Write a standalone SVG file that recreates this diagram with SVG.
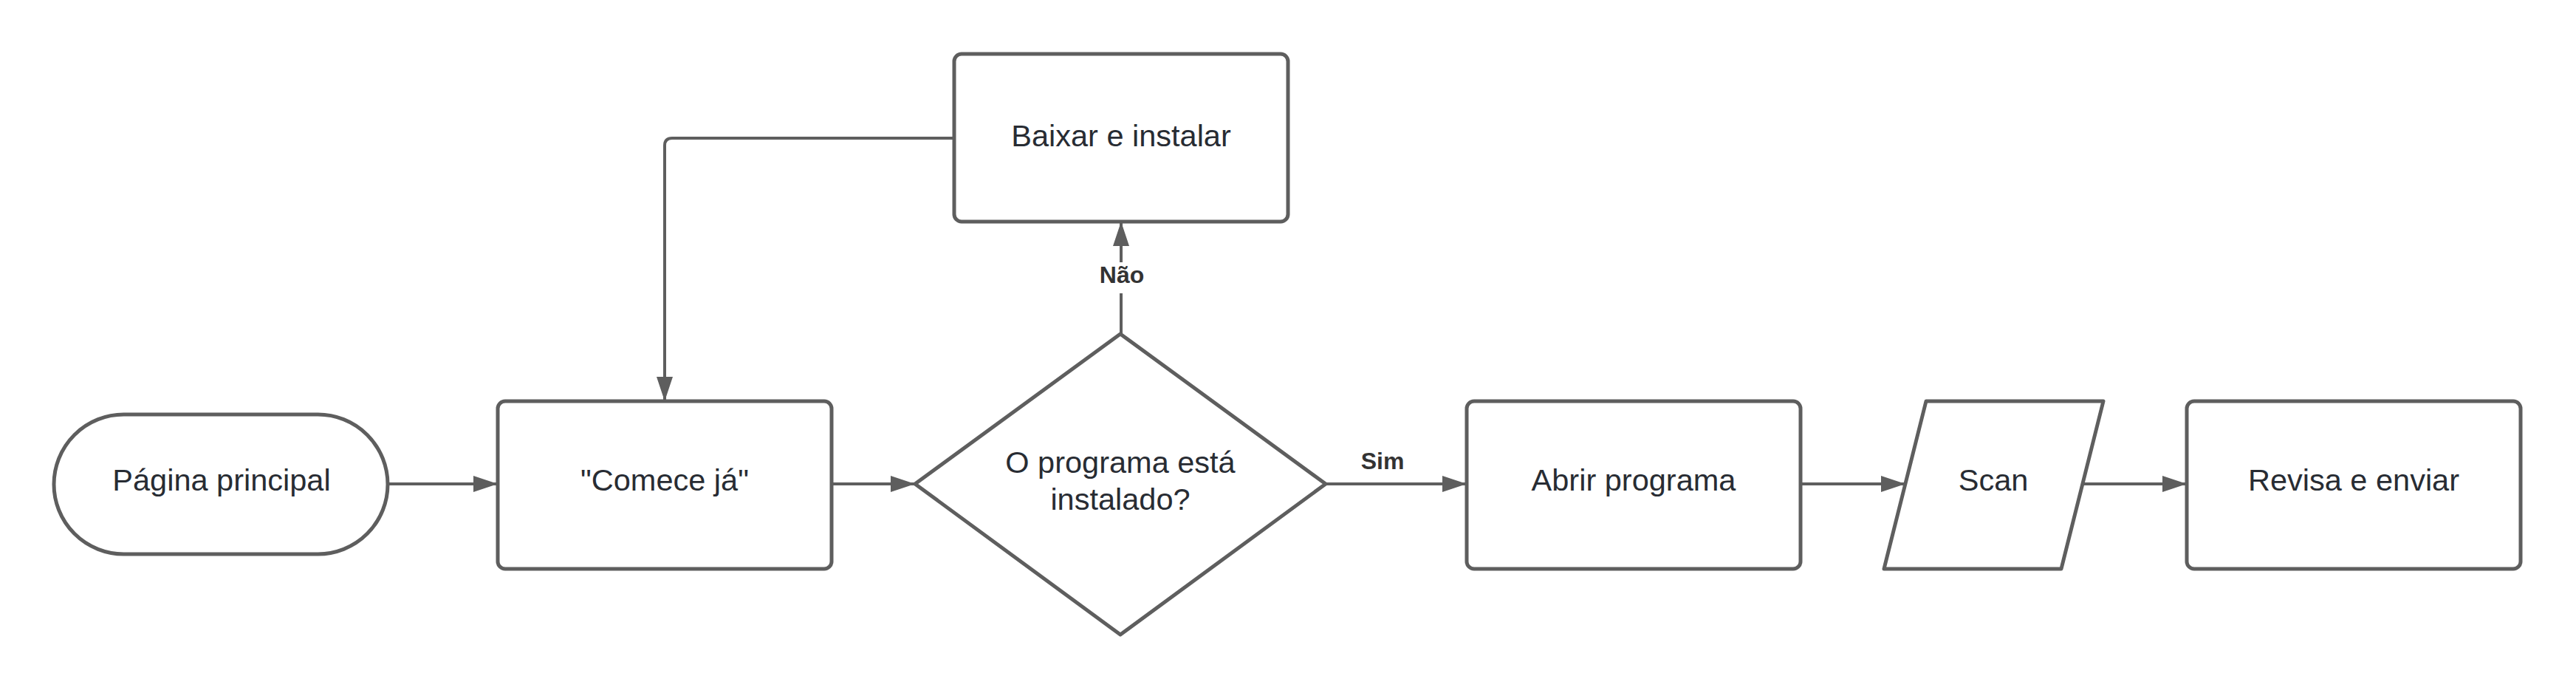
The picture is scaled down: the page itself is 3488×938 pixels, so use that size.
<svg xmlns="http://www.w3.org/2000/svg" width="3488" height="938" viewBox="0 0 3488 938">
<style>
.node{fill:#ffffff;stroke:#5e5e5e;stroke-width:5;stroke-linejoin:round}
.lbl{font-family:"Liberation Sans",Arial,sans-serif;font-size:41.5px;fill:#282c33;text-anchor:middle}
.elbl{font-family:"Liberation Sans",Arial,sans-serif;font-size:32px;font-weight:bold;fill:#333333;text-anchor:middle}
.conn{fill:none;stroke:#5e5e5e;stroke-width:4;stroke-linejoin:round}
</style>
<defs>
<marker id="arr" markerUnits="userSpaceOnUse" markerWidth="34" markerHeight="22" refX="33" refY="11" orient="auto">
<path d="M0,0 L33,11 L0,22 z" fill="#5e5e5e"/>
</marker>
</defs>
<rect width="3488" height="938" fill="#ffffff"/>
<g id="connectors">
<path class="conn" d="M525,655 H674" marker-end="url(#arr)"/>
<path class="conn" d="M1126,655 H1239" marker-end="url(#arr)"/>
<path class="conn" d="M1795,655 H1986" marker-end="url(#arr)"/>
<path class="conn" d="M2438,655 H2580" marker-end="url(#arr)"/>
<path class="conn" d="M2820,655 H2961" marker-end="url(#arr)"/>
<path class="conn" d="M1518,452 V397"/>
<path class="conn" d="M1518,355 V300" marker-end="url(#arr)"/>
<path class="conn" d="M1292,187 H910 Q900,187 900,197 V543" marker-end="url(#arr)"/>
<text class="elbl" x="1519" y="383">Não</text>
<text class="elbl" x="1872" y="635">Sim</text>
</g>
<g id="node-pagina">
<rect class="node" x="73" y="561" width="452" height="189" rx="94.5"/>
<text class="lbl" x="300" y="664">Página principal</text>
</g>
<g id="node-comece">
<rect class="node" x="674" y="543" width="452" height="227" rx="10"/>
<text class="lbl" x="900" y="664">"Comece já"</text>
</g>
<g id="node-decisao">
<polygon class="node" points="1517,452 1795,655 1517,859 1239,655"/>
<text class="lbl" x="1517" y="640">O programa está</text>
<text class="lbl" x="1517" y="690">instalado?</text>
</g>
<g id="node-baixar">
<rect class="node" x="1292" y="73" width="452" height="227" rx="10"/>
<text class="lbl" x="1518" y="198">Baixar e instalar</text>
</g>
<g id="node-abrir">
<rect class="node" x="1986" y="543" width="452" height="227" rx="10"/>
<text class="lbl" x="2212" y="664">Abrir programa</text>
</g>
<g id="node-scan">
<polygon class="node" points="2608,543 2848,543 2791,770 2551,770"/>
<text class="lbl" x="2699" y="664">Scan</text>
</g>
<g id="node-revisa">
<rect class="node" x="2961" y="543" width="452" height="227" rx="10"/>
<text class="lbl" x="3187" y="664">Revisa e enviar</text>
</g>
</svg>
